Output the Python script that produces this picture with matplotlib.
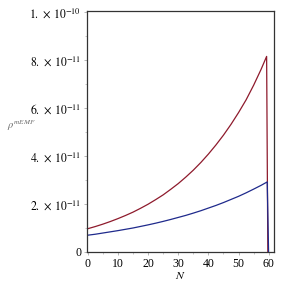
import numpy as np
import matplotlib
matplotlib.use("Agg")
import matplotlib.pyplot as plt
from matplotlib.ticker import FixedLocator, MultipleLocator

plt.rcParams['font.family'] = ['Liberation Serif', 'DejaVu Serif']
plt.rcParams['mathtext.fontset'] = 'stix'

# values (units of 1e-11)
n_red = [0, 2.5, 5, 7.5, 10, 12.5, 15, 17.5, 20, 22.5, 25, 27.5, 30, 32.5, 35,
         37.5, 40, 42.5, 45, 47.5, 50, 52.5, 55, 57.5, 59.3, 59.7]
rho_red = [0.97, 1.06, 1.16, 1.27, 1.39, 1.52, 1.66, 1.82, 1.99, 2.18, 2.38, 2.61,
           2.85, 3.12, 3.41, 3.73, 4.08, 4.46, 4.87, 5.32, 5.81, 6.34, 6.95, 7.62, 8.15, 0.0]

n_blue = [0, 2.5, 5, 7.5, 10, 12.5, 15, 17.5, 20, 22.5, 25, 27.5, 30, 32.5, 35,
          37.5, 40, 42.5, 45, 47.5, 50, 52.5, 55, 57.5, 59.5, 59.95]
rho_blue = [0.70, 0.74, 0.79, 0.84, 0.89, 0.945, 1.0, 1.065, 1.13, 1.2, 1.275, 1.355,
            1.44, 1.525, 1.62, 1.72, 1.83, 1.94, 2.06, 2.19, 2.32, 2.465, 2.62, 2.78, 2.92, 0.0]

yticks = [0, 2e-11, 4e-11, 6e-11, 8e-11, 1e-10]
ylabels = ['0', r'$2.\,\times\,10^{-11}$', r'$4.\,\times\,10^{-11}$', r'$6.\,\times\,10^{-11}$',
           r'$8.\,\times\,10^{-11}$', r'$1.\,\times\,10^{-10}$']
xticks = [0, 10, 20, 30, 40, 50, 60]

fig = plt.figure(figsize=(2.82, 2.82), dpi=100)
ax = fig.add_axes([0.3075, 0.1064, 0.6631, 0.8556])

ax.plot(n_red, np.array(rho_red) * 1e-11, color='#8e1a2c', lw=0.9)
ax.plot(n_blue, np.array(rho_blue) * 1e-11, color='#1f2a8c', lw=0.9)

ax.set_xlim(-0.33, 61.65)
ax.set_ylim(0, 1.0054e-10)

ax.yaxis.set_major_locator(FixedLocator(yticks))
ax.set_yticklabels(ylabels)
ax.yaxis.set_minor_locator(MultipleLocator(1e-11))
ax.xaxis.set_major_locator(FixedLocator(xticks))
ax.set_xticklabels([str(t) for t in xticks])
ax.xaxis.set_minor_locator(MultipleLocator(5))

ax.tick_params(which='both', direction='out', labelsize=8.5, color='#999999', pad=1.5)
ax.tick_params(which='major', length=2.5, width=0.5)
ax.tick_params(which='minor', length=1.5, width=0.4)
ax.tick_params(top=False, right=False)
for s in ax.spines.values():
    s.set_color('#333333')
    s.set_linewidth(0.9)

ax.set_xlabel('$N$', fontsize=8.5, labelpad=0)
fig.text(0.025, 0.555, r'$\rho^{mEMF}$', fontsize=7.5, color='#666666', va='center', ha='left')

fig.savefig('out.png', dpi=100)
